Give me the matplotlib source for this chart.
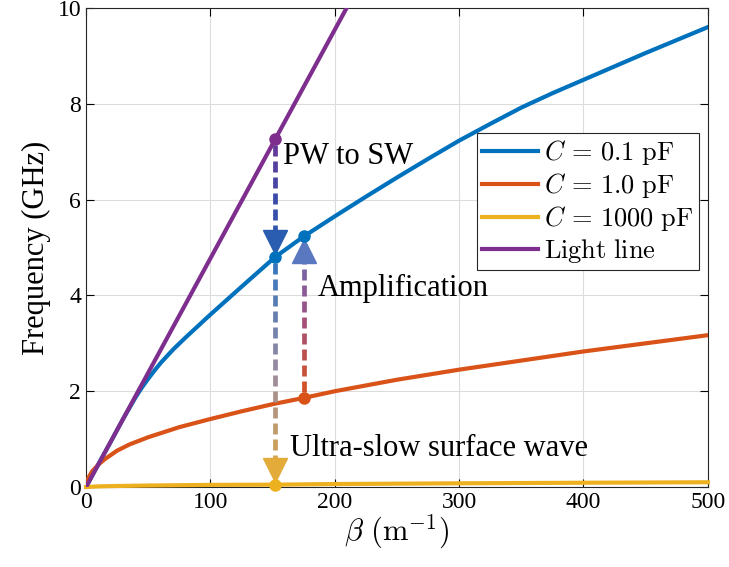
import numpy as np
import matplotlib
matplotlib.use('Agg')
import matplotlib.pyplot as plt
from matplotlib.collections import LineCollection
from matplotlib.colors import LinearSegmentedColormap

plt.rcParams['font.family'] = 'Liberation Serif'
plt.rcParams['mathtext.fontset'] = 'cm'

# values
beta_blue = [0, 10, 20, 30, 40, 45, 50, 55, 60, 70, 80, 90, 100, 125, 152, 175, 200, 225,
             250, 275, 300, 325, 350, 375, 400, 450, 500]
f_blue = [0, 0.48, 0.95, 1.43, 1.88, 2.08, 2.26, 2.43, 2.59, 2.87, 3.12, 3.36, 3.6, 4.18,
          4.8, 5.23, 5.65, 6.06, 6.46, 6.85, 7.23, 7.58, 7.92, 8.22, 8.5, 9.06, 9.6]

beta_orange = [0, 2, 5, 10, 15, 25, 35, 50, 75, 100, 125, 150, 175, 200, 250, 300, 400, 500]
f_orange = [0, 0.2, 0.33, 0.47, 0.58, 0.76, 0.89, 1.04, 1.25, 1.42, 1.58, 1.73, 1.86, 2.0,
            2.24, 2.45, 2.83, 3.17]

beta_yellow = [0, 10, 25, 50, 100, 152, 200, 300, 400, 500]
f_yellow = [0, 0.014, 0.022, 0.032, 0.045, 0.05, 0.063, 0.078, 0.09, 0.1]

beta_light = [0, 250]
f_light = [0, 11.93]

labels = [r'$C\,=\,0.1\ \mathrm{pF}$', r'$C\,=\,1.0\ \mathrm{pF}$',
          r'$C\,=\,1000\ \mathrm{pF}$', r'$\mathrm{Light\ line}$']
colors = ['#0072BD', '#D95319', '#EDB120', '#7E2F8E']

# transition points (beta, f)
pt_light = (152, 7.26)
pt_blue1 = (152, 4.8)
pt_blue2 = (175, 5.23)
pt_orange = (175, 1.86)
pt_yellow = (152, 0.05)

fig = plt.figure(figsize=(7.29, 5.67), dpi=100)
ax = fig.add_axes([0.118, 0.141, 0.853, 0.845])

ax.plot(beta_blue, f_blue, color=colors[0], lw=3, label=labels[0], zorder=3)
ax.plot(beta_orange, f_orange, color=colors[1], lw=3, label=labels[1], zorder=3)
ax.plot(beta_yellow, f_yellow, color=colors[2], lw=3, label=labels[2], zorder=3, clip_on=False)
ax.plot(beta_light, f_light, color=colors[3], lw=3, label=labels[3], zorder=3)

ax.set_xlim(0, 500)
ax.set_ylim(0, 10)
ax.set_xticks([0, 100, 200, 300, 400, 500])
ax.set_yticks([0, 2, 4, 6, 8, 10])
ax.grid(True, color='#dcdcdc', lw=0.8)
ax.set_axisbelow(True)
ax.tick_params(direction='in', top=True, right=True, labelsize=17, length=6, width=0.8)
for s in ax.spines.values():
    s.set_linewidth(0.8)
    s.set_color('#262626')
ax.set_xlabel(r'$\beta\ (\mathrm{m}^{-1})$', fontsize=22, labelpad=0)
ax.set_ylabel('Frequency (GHz)', fontsize=22, labelpad=5)


def grad_arrow(x, y0, y1, stops, head_color, down):
    # dashed vertical line whose colour runs through the stops
    p0 = ax.transData.transform((x, y0))
    p1 = ax.transData.transform((x, y1))
    length = abs(p1[1] - p0[1])
    head = 22
    end = length - head
    dash, gap = 11, 5
    cmap = LinearSegmentedColormap.from_list('g', stops)
    segs, cols = [], []
    s = 6
    sign = 1 if p1[1] > p0[1] else -1
    inv = ax.transData.inverted()
    while s < end:
        e = min(s + dash, end)
        pa = inv.transform((p0[0], p0[1] + sign * s))
        pb = inv.transform((p0[0], p0[1] + sign * e))
        segs.append([pa, pb])
        cols.append(cmap((s + e) / 2 / length))
        s += dash + gap
    ax.add_collection(LineCollection(segs, colors=cols, lw=3.4, zorder=4))
    hc = p1[1] - sign * (head / 2 + 4)
    hpos = inv.transform((p0[0], hc))
    ax.plot(hpos[0], hpos[1], marker='v' if down else '^', ms=17,
            color=head_color, mec=head_color, zorder=5, clip_on=False)


grad_arrow(pt_light[0], pt_light[1], pt_blue1[1], ['#6a3596', '#3a4aa8', '#2a5cb0'], '#2a5cb0', True)
grad_arrow(pt_orange[0], pt_orange[1], pt_blue2[1], ['#D95319', '#a05080', '#5a74c0'], '#5a78c0', False)
grad_arrow(pt_blue1[0], pt_blue1[1], pt_yellow[1], ['#2f74c0', '#9a8aa0', '#e3ab3a'], '#e3ab3a', True)

for (px, py), c in [(pt_light, colors[3]), (pt_blue1, colors[0]), (pt_blue2, colors[0]),
                    (pt_orange, colors[1]), (pt_yellow, colors[2])]:
    ax.plot(px, py, 'o', color=c, ms=8, zorder=6, clip_on=False)

ax.text(158, 6.9, 'PW to SW', fontsize=22, va='center', ha='left', zorder=7)
ax.text(186, 4.15, 'Amplification', fontsize=22, va='center', ha='left', zorder=7)
ax.text(164, 0.8, 'Ultra-slow surface wave', fontsize=22, va='center', ha='left', zorder=7)

leg = ax.legend(loc='upper right', bbox_to_anchor=(0.986, 0.739), borderaxespad=0,
                fontsize=19, fancybox=False, framealpha=1, edgecolor='#262626',
                handlelength=2.1, handletextpad=0.25, labelspacing=0.15, borderpad=0.2)
leg.get_frame().set_linewidth(0.8)
leg.set_zorder(8)

fig.savefig('out.png', dpi=100)
